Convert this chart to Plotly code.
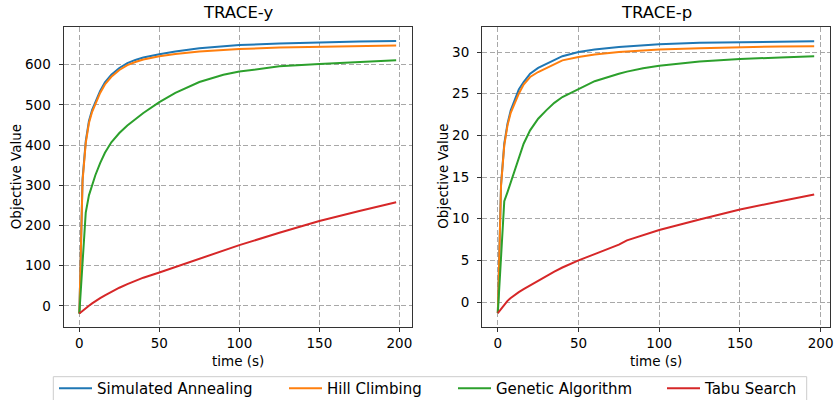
import plotly.graph_objects as go

# ---------------- data ----------------
series_names = ["Simulated Annealing", "Hill Climbing", "Genetic Algorithm", "Tabu Search"]
series_colors = ["#1f77b4", "#ff7f0e", "#2ca02c", "#d62728"]

time_y = [0, 2, 4, 6, 8, 10, 13, 16, 20, 25, 30, 35, 40, 50, 60, 75, 90, 100, 125, 150, 175, 198]
sa_y = [-19, 315, 410, 460, 488, 508, 535, 556, 575, 592, 604, 612, 618, 626, 633, 641, 646, 649, 653, 656, 658, 659]
hc_y = [-19, 310, 405, 455, 483, 503, 530, 551, 570, 587, 599, 607, 613, 621, 627, 633, 637, 639, 643, 645, 647, 648]
ga_y = [-19, 106, 232, 275, 300, 325, 355, 381, 407, 430, 449, 465, 480, 507, 530, 557, 575, 583, 596, 602, 607, 611]
ts_y = [-19, -12, -6, 0, 6, 12, 19, 26, 35, 45, 54, 62, 70, 83, 97, 117, 137, 151, 182, 211, 236, 258]

time_p = [0, 2, 4, 6, 8, 10, 13, 16, 20, 25, 30, 35, 40, 50, 60, 75, 80, 90, 100, 125, 150, 175, 196]
sa_p = [-1.32, 14.1, 19.0, 21.4, 23.0, 24.0, 25.5, 26.4, 27.4, 28.1, 28.6, 29.1, 29.5, 30.0, 30.3, 30.6, 30.67, 30.82, 30.93, 31.1, 31.2, 31.25, 31.3]
hc_p = [-1.32, 14.0, 18.8, 21.2, 22.7, 23.6, 25.0, 26.1, 27.0, 27.6, 28.1, 28.6, 29.0, 29.4, 29.7, 30.0, 30.07, 30.2, 30.3, 30.45, 30.6, 30.67, 30.7]
ga_p = [-1.32, 5.4, 12.1, 13.2, 14.4, 15.6, 17.4, 19.0, 20.6, 22.0, 23.0, 23.9, 24.6, 25.6, 26.5, 27.4, 27.65, 28.05, 28.35, 28.85, 29.15, 29.35, 29.5]
ts_p = [-1.32, -0.8, -0.3, 0.15, 0.5, 0.8, 1.2, 1.55, 2.0, 2.6, 3.15, 3.65, 4.15, 5.0, 5.75, 6.9, 7.4, 8.05, 8.65, 9.9, 11.1, 12.1, 12.9]

panel_titles = ["TRACE-y", "TRACE-p"]
x_label = "time (s)"
y_label = "Objective Value"
x_ticks = [0, 50, 100, 150, 200]
y_ticks_y = [0, 100, 200, 300, 400, 500, 600]
y_ticks_p = [0, 5, 10, 15, 20, 25, 30]

# ---------------- figure ----------------
W, H = 835, 400
fig = go.Figure()

legend_keys = ["legend", "legend2", "legend3", "legend4"]
vals_y = [sa_y, hc_y, ga_y, ts_y]
vals_p = [sa_p, hc_p, ga_p, ts_p]
for i, name in enumerate(series_names):
    fig.add_trace(go.Scatter(x=time_y, y=vals_y[i], mode="lines", name=name,
                             line=dict(color=series_colors[i], width=2),
                             xaxis="x", yaxis="y", legend=legend_keys[i], showlegend=True))
for i, name in enumerate(series_names):
    fig.add_trace(go.Scatter(x=time_p, y=vals_p[i], mode="lines", name=name,
                             line=dict(color=series_colors[i], width=2),
                             xaxis="x2", yaxis="y2", showlegend=False))

FONT = "DejaVu Sans"
tick_font = dict(family=FONT, size=13.5, color="black")

def px_x(p):
    return p / W

def px_y(p):
    return 1 - p / H

ax_common = dict(showline=True, linecolor="#333", linewidth=1, mirror=True,
                 ticks="outside", ticklen=4, tickcolor="#333", tickwidth=1,
                 showgrid=True, gridcolor="#a8a8a8", gridwidth=1, griddash="5px,2.5px",
                 zeroline=False, tickfont=tick_font)

ydom = [px_y(326.7), px_y(27)]
fig.update_layout(
    width=W, height=H,
    margin=dict(l=0, r=0, t=0, b=0, autoexpand=False),
    paper_bgcolor="white", plot_bgcolor="white",
    font=dict(family=FONT, color="black"),
    xaxis=dict(domain=[px_x(63.5), px_x(412)], range=[-9.9, 207.9], tickvals=x_ticks, anchor="y", **ax_common),
    yaxis=dict(domain=ydom, range=[-52, 694], tickvals=y_ticks_y, anchor="x", ticklabelstandoff=5, **ax_common),
    xaxis2=dict(domain=[px_x(482), px_x(830)], range=[-9.8, 205.8], tickvals=x_ticks, anchor="y2", **ax_common),
    yaxis2=dict(domain=ydom, range=[-2.95, 33.0], tickvals=y_ticks_p, anchor="x2", ticklabelstandoff=5, **ax_common),
)

# legends: one per entry so spacing matches
legend_line_x = [58, 288, 457, 666]
for key, lx in zip(legend_keys, legend_line_x):
    fig.update_layout({key: dict(x=px_x(lx - 4), xanchor="left", y=px_y(388.5), yanchor="middle",
                                 orientation="h", bgcolor="rgba(0,0,0,0)", borderwidth=0,
                                 font=dict(family=FONT, size=15, color="black"),
                                 itemwidth=33, tracegroupgap=0)})

# legend frame (bottom edge is cut off by the figure edge, as in the reference)
fx0, fx1, fy_top = px_x(53.3), px_x(806.7), px_y(376.7)
fig.add_shape(type="path", xref="paper", yref="paper",
              path=f"M {fx0},0 L {fx0},{fy_top} L {fx1},{fy_top} L {fx1},0",
              line=dict(color="#cccccc", width=1), layer="below")

# titles and axis labels
centers = [(63.5 + 412) / 2, (482 + 830) / 2]
ylab_x = [15.5, 443]
for i in range(2):
    fig.add_annotation(text=panel_titles[i], xref="paper", yref="paper",
                       x=px_x(centers[i]), y=px_y(13), xanchor="center", yanchor="middle",
                       showarrow=False, font=dict(family=FONT, size=16.5, color="black"))
    fig.add_annotation(text=x_label, xref="paper", yref="paper",
                       x=px_x(centers[i]), y=px_y(361), xanchor="center", yanchor="middle",
                       showarrow=False, font=dict(family=FONT, size=13.5, color="black"))
    fig.add_annotation(text=y_label, xref="paper", yref="paper",
                       x=px_x(ylab_x[i]), y=px_y(176.8), xanchor="center", yanchor="middle",
                       textangle=-90, showarrow=False, font=dict(family=FONT, size=13.5, color="black"))

fig.write_html("out.html")
